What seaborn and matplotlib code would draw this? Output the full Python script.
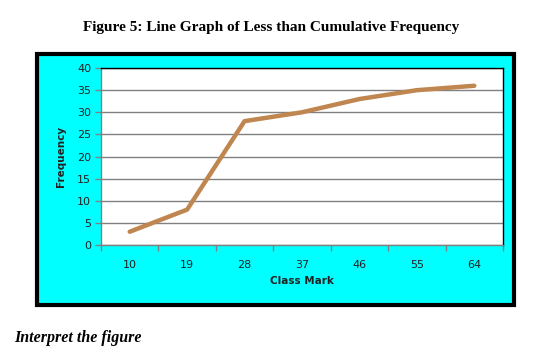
import matplotlib
matplotlib.use("Agg")
import matplotlib.pyplot as plt
from matplotlib.patches import Rectangle
import seaborn as sns
import pandas as pd

# less-than cumulative frequency by class mark
class_marks = ["10", "19", "28", "37", "46", "55", "64"]
cum_freq = [3, 8, 28, 30, 33, 35, 36]

df = pd.DataFrame({"Class Mark": class_marks, "Frequency": cum_freq})

sns.set_style("white")
plt.rcParams["font.family"] = ["DejaVu Sans"]

fig = plt.figure(figsize=(5.42, 3.56), dpi=100)
fig.patch.set_facecolor("white")

# cyan chart-area box with black border
fig.patches.append(Rectangle((0.068, 0.142), 0.880, 0.707, transform=fig.transFigure,
                             facecolor="#00FFFF", edgecolor="black", linewidth=3, zorder=-1))

ax = fig.add_axes([0.1863, 0.3118, 0.7417, 0.497])
ax.set_zorder(2)
ax.set_facecolor("white")

sns.lineplot(data=df, x="Class Mark", y="Frequency", ax=ax, color="#C0864F",
             linewidth=3.2, sort=False, zorder=3)

ax.set_ylim(0, 40)
ax.set_yticks(range(0, 41, 5))
ax.set_xlim(-0.5, len(class_marks) - 0.5)
ax.set_xticks(range(len(class_marks)))
ax.set_xticklabels(class_marks)
ax.set_xticks([i - 0.5 for i in range(len(class_marks) + 1)], minor=True)
ax.grid(axis="y", color="#808080", linewidth=1)
ax.set_axisbelow(True)

ax.tick_params(axis="x", which="major", bottom=True, length=0, pad=11, labelsize=8,
               colors="#222222")
ax.tick_params(axis="x", which="minor", bottom=True, length=4, width=1,
               color="#808080", direction="out")
ax.tick_params(axis="y", left=True, length=4, width=1, direction="out", labelsize=8,
               pad=3, colors="#222222")
ax.tick_params(axis="y", color="#808080")

for s in ["top", "right"]:
    ax.spines[s].set_color("black")
    ax.spines[s].set_linewidth(1)
for s in ["left", "bottom"]:
    ax.spines[s].set_color("#808080")
    ax.spines[s].set_linewidth(1)

ax.set_xlabel("Class Mark", fontsize=7.5, fontweight="bold", labelpad=4, color="#222222")
ax.set_ylabel("Frequency", fontsize=7.5, fontweight="bold", labelpad=8, color="#222222")

fig.text(0.5, 0.924, "Figure 5: Line Graph of Less than Cumulative Frequency",
         ha="center", va="center", fontsize=11, fontweight="bold", color="black",
         family="Liberation Serif")
fig.text(0.026, 0.05, "Interpret the figure", ha="left", va="center", fontsize=11.5,
         fontweight="bold", style="italic", color="black", family="Liberation Serif")

fig.savefig("out.png", dpi=100, facecolor="white")
